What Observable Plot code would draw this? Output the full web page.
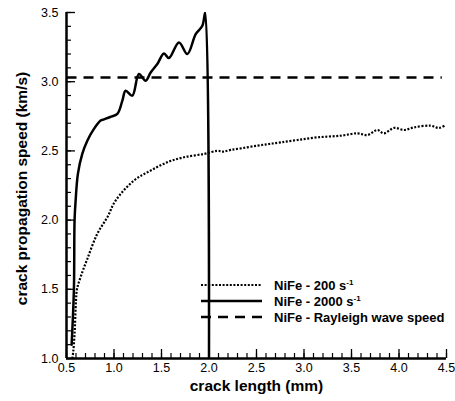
<!DOCTYPE html>
<html><head><meta charset="utf-8">
<script src="https://cdn.jsdelivr.net/npm/d3@7"></script>
<script src="https://cdn.jsdelivr.net/npm/@observablehq/plot@0.6"></script>
<style>
body{margin:0;background:#fff}
#chart{position:relative;width:455px;height:401px}
#legend{position:absolute;left:0;top:0;pointer-events:none}
</style>
</head><body><div id="chart"></div>
<script>
// crack length (mm) and crack propagation speed (km/s), NiFe at 2000 1/s
const len2000 = [0.554,0.578,0.585,0.596,0.62,0.666,0.719,0.789,0.859,0.894,0.96,1.035,1.088,1.122,1.193,1.262,1.333,1.386,1.456,1.526,1.578,1.684,1.772,1.86,1.93,1.96,2.0];
const speed2000 = [1.10,1.50,2.00,2.14,2.334,2.478,2.574,2.659,2.719,2.728,2.745,2.767,2.863,2.935,2.899,3.056,3.007,3.067,3.128,3.204,3.171,3.284,3.200,3.344,3.404,3.50,1.0];
// NiFe at 200 1/s
const len200 = [0.561,0.571,0.585,0.60,0.61,0.648,0.719,0.824,0.93,1.017,1.21,1.386,1.561,1.736,1.947,2.088,2.15,2.228,2.35,2.509,2.63,2.755,2.93,3.141,3.386,3.562,3.668,3.773,3.842,3.948,4.053,4.158,4.334,4.422,4.492];
const speed200 = [1.0,1.05,1.18,1.42,1.5,1.588,1.72,1.901,2.021,2.141,2.286,2.358,2.418,2.454,2.478,2.50,2.495,2.507,2.52,2.538,2.55,2.562,2.579,2.598,2.61,2.627,2.615,2.651,2.627,2.666,2.651,2.67,2.682,2.666,2.688];
// Rayleigh wave speed
const rayleighLen = [0.5, 4.45];
const rayleighSpeed = 3.03;
// ticks
const xMajor = [0.5,1.0,1.5,2.0,2.5,3.0,3.5,4.0,4.5];
const xMinor = d3.range(5,46).map(d=>d/10);
const yMajor = [1.0,1.5,2.0,2.5,3.0,3.5];
const yMinor = d3.range(10,36).map(d=>d/10);
const xTitle = "crack length (mm)";
const yTitle = "crack propagation speed (km/s)";
const legendItems = [
  {label:"NiFe - 200 s", sup:"-1", dash:"2,1.6", width:2.2},
  {label:"NiFe - 2000 s", sup:"-1", dash:null, width:2.5},
  {label:"NiFe - Rayleigh wave speed", sup:"", dash:"10,7", width:2.5}
];

const fmt = d3.format(".1f");
const font = "'Liberation Sans', Arial, Helvetica, sans-serif";
const W = 455, H = 401, mT = 12, mR = 9, mB = 43, mL = 66;
const frameW = W - mL - mR, frameH = H - mT - mB;
const minorLen = 5, majorLen = 9;
const plot = Plot.plot({
  width:W, height:H,
  marginTop:mT, marginRight:mR, marginBottom:mB, marginLeft:mL,
  style:{fontFamily:font, background:"#fff", color:"#000"},
  x:{domain:[0.5,4.5], axis:null},
  y:{domain:[1,3.5], axis:null},
  marks:[
    // inward ticks, from the bottom and left frame edges
    Plot.ruleX(xMinor, {x:d=>d, insetTop:frameH - minorLen, stroke:"#000", strokeWidth:1.2}),
    Plot.ruleX(xMajor, {x:d=>d, insetTop:frameH - majorLen, stroke:"#000", strokeWidth:1.3}),
    Plot.ruleY(yMinor, {y:d=>d, insetRight:frameW - minorLen, stroke:"#000", strokeWidth:1.2}),
    Plot.ruleY(yMajor, {y:d=>d, insetRight:frameW - majorLen, stroke:"#000", strokeWidth:1.3}),
    // tick labels
    Plot.axisX({ticks:xMajor, tickSize:0, tickPadding:5, tickFormat:fmt, label:null, fontSize:12.5}),
    Plot.axisY({ticks:yMajor, tickSize:0, tickPadding:8, tickFormat:fmt, label:null, fontSize:12.5}),
    Plot.line(rayleighLen, {x:rayleighLen, y:rayleighLen.map(()=>rayleighSpeed), stroke:"#000", strokeWidth:2.5, strokeDasharray:"10,7", strokeLinecap:"butt"}),
    Plot.line(len200, {x:len200, y:speed200, stroke:"#000", strokeWidth:2.2, strokeDasharray:"2,1.6", strokeLinecap:"butt", strokeLinejoin:"miter", curve:"catmull-rom", clip:true}),
    Plot.line(len2000, {x:len2000, y:speed2000, stroke:"#000", strokeWidth:2.5, curve:"catmull-rom", clip:true}),
    Plot.ruleX([0.5], {x:d=>d, stroke:"#000", strokeWidth:2.5}),
    Plot.ruleY([1.0], {y:d=>d, stroke:"#000", strokeWidth:2.5}),
    Plot.text([xTitle], {text:d=>d, frameAnchor:"bottom", dy:28, lineAnchor:"middle", textAnchor:"middle", fontSize:15.5, fontWeight:"bold", fill:"#000"}),
    Plot.text([yTitle], {text:d=>d, frameAnchor:"left", dx:-44, dy:3, rotate:-90, lineAnchor:"middle", textAnchor:"middle", fontSize:15.5, fontWeight:"bold", fill:"#000"})
  ]
});
const chart = document.getElementById("chart");
chart.appendChild(plot);

// legend overlay
const svg = d3.select(chart).append("svg").attr("id","legend").attr("width",W).attr("height",H);
legendItems.forEach((it,i)=>{
  const y = 285 + i*16;
  const ln = svg.append("line").attr("x1",201).attr("x2",262).attr("y1",y).attr("y2",y)
    .attr("stroke","#000").attr("stroke-width",it.width);
  if (it.dash) ln.attr("stroke-dasharray", it.dash);
  const t = svg.append("text").attr("x",274).attr("y",y+4.5)
    .attr("font-family",font).attr("font-weight","bold").attr("font-size",13).text(it.label);
  if (it.sup) t.append("tspan").attr("font-size",8).attr("dy",-5).text(it.sup);
});
</script>
</body></html>
